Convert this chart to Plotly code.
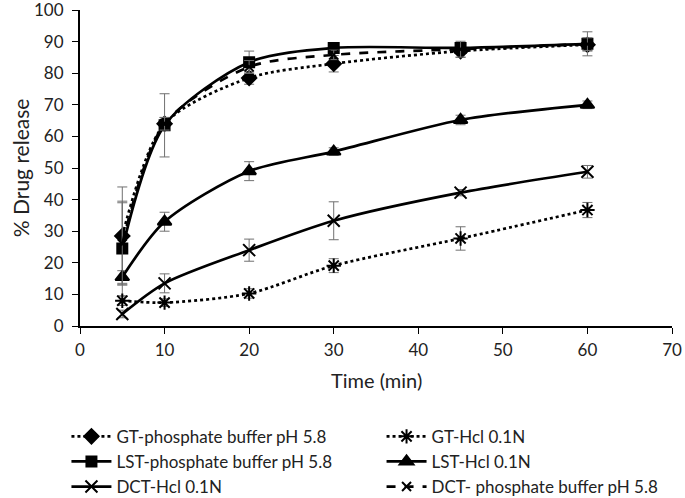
import plotly.graph_objects as go

time = [5, 10, 20, 30, 45, 60]

gt_phos = [28.5, 64, 78.5, 83, 87, 89]
gt_phos_err = [15.5, 2, 2, 2.6, 2, 2]
gt_hcl = [8, 7.4, 10.3, 19.1, 27.7, 36.7]
gt_hcl_err = [1.5, 1.2, 1.5, 2.2, 3.7, 2.4]
lst_phos = [24.5, 63.5, 83.5, 88, 88, 89.3]
lst_phos_err = [15, 10, 3.5, 1, 1, 3.8]
lst_hcl = [15.5, 33, 49, 55.2, 65.2, 70]
lst_hcl_err = [2, 3, 3, 1.2, 1.5, 1.2]
dct_hcl = [3.8, 13.5, 24, 33.3, 42.2, 48.8]
dct_hcl_err = [1.2, 3, 3.5, 6, 1, 2]
dct_phos = [26, 64, 82, 85.8, 87.6, 89.2]
dct_phos_err = [13, 2, 2, 1.5, 2.5, 2]

x_ticks = [0, 10, 20, 30, 40, 50, 60, 70]
y_ticks = [0, 10, 20, 30, 40, 50, 60, 70, 80, 90, 100]

x_title = "Time (min)"
y_title = "% Drug release"
names = ["GT-phosphate buffer pH 5.8", "GT-Hcl 0.1N",
         "LST-phosphate buffer pH 5.8", "LST-Hcl 0.1N",
         "DCT-Hcl 0.1N", "DCT- phosphate buffer pH 5.8"]

FONT = "Lato, 'Open Sans', sans-serif"

series = [
    (names[0], gt_phos, gt_phos_err, "dot", "diamond", 11, "legend", 1),
    (names[2], lst_phos, lst_phos_err, "solid", "square", 10, "legend", 2),
    (names[4], dct_hcl, dct_hcl_err, "solid", "x-thin-open", 12, "legend", 3),
    (names[1], gt_hcl, gt_hcl_err, "dot", "asterisk-open", 12, "legend2", 1),
    (names[3], lst_hcl, lst_hcl_err, "solid", "triangle-up", 12, "legend2", 2),
    (names[5], dct_phos, dct_phos_err, "dash", "x-thin-open", 9, "legend2", 3),
]

fig = go.Figure()
for name, ys, errs, dash, sym, size, leg, grp in series:
    fig.add_trace(go.Scatter(
        x=time, y=ys, name=name, mode="lines+markers",
        line=dict(color="black", width=2.7, dash=dash, shape="spline", smoothing=0.8),
        marker=dict(symbol=sym, size=size, color="black",
                    line=dict(color="black", width=2)),
        error_y=dict(type="data", array=errs, visible=True,
                     color="#707070", thickness=1, width=5),
        legend=leg, legendgroup=f"{leg}{grp}",
    ))

leg_common = dict(font=dict(family=FONT, size=17, color="#222"),
                  bgcolor="rgba(0,0,0,0)", tracegroupgap=0,
                  yref="container", xref="container",
                  yanchor="top", y=0.159, xanchor="left",
                  itemwidth=40)

fig.update_layout(
    width=685, height=498,
    margin=dict(l=80, r=13, t=10, b=172, autoexpand=False),
    paper_bgcolor="white", plot_bgcolor="white",
    font=dict(family=FONT, size=17, color="#222"),
    showlegend=True,
    legend=dict(x=0.097, **leg_common),
    legend2=dict(x=0.557, **leg_common),
    xaxis=dict(range=[0, 70], tickmode="array", tickvals=x_ticks,
               showline=True, linecolor="black",
               linewidth=2, ticks="outside", ticklen=6, tickcolor="black",
               showgrid=False, zeroline=False, automargin=False,
               ticklabeloverflow="allow", ticklabelstandoff=2,
               tickfont=dict(size=17)),
    yaxis=dict(range=[0, 100], tickmode="array", tickvals=y_ticks,
               showline=True, linecolor="black",
               linewidth=2, ticks="outside", ticklen=6, tickcolor="black",
               showgrid=False, zeroline=False, automargin=False,
               ticklabeloverflow="allow", ticklabelstandoff=5,
               tickfont=dict(size=17)),
    annotations=[
        dict(text=x_title, xref="paper", yref="paper", x=0.5, y=-0.171,
             xanchor="center", yanchor="middle", showarrow=False,
             font=dict(family=FONT, size=20, color="#222")),
        dict(text=y_title, xref="paper", yref="paper", x=-0.101, y=0.5,
             xanchor="center", yanchor="middle", showarrow=False, textangle=-90,
             font=dict(family=FONT, size=21, color="#222")),
    ],
)

fig.write_html("out.html", config={"displayModeBar": False},
               post_script="document.body.style.margin='0px';")
